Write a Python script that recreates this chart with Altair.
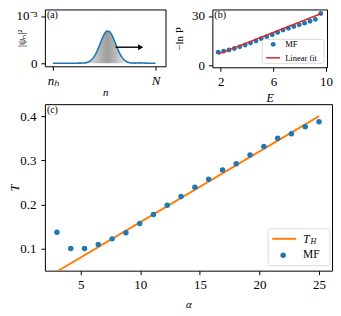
import altair as alt
import pandas as pd

FONT = "Liberation Serif"
BLUE = "#1f77b4"
ORANGE = "#ff7f0e"
RED = "#d62728"

# ---------------- panel (a): wave packet |psi_n|^2 (units of 1e-3)
n_pos = [0.0, 0.05, 0.10, 0.15, 0.20, 0.25,
         0.30, 0.325, 0.35, 0.375, 0.40, 0.425, 0.45, 0.475, 0.50, 0.525,
         0.55, 0.575, 0.60, 0.625, 0.65, 0.675, 0.70, 0.725, 0.75, 0.775,
         0.80, 0.825, 0.85, 0.875, 0.90, 0.95, 1.0]
psi_sq = [0.002, 0.002, 0.002, 0.002, 0.002, 0.003,
          0.005, 0.014, 0.033, 0.070, 0.136, 0.233, 0.360, 0.497, 0.614, 0.679,
          0.671, 0.594, 0.470, 0.333, 0.211, 0.120, 0.061, 0.028, 0.011, 0.005,
          0.004, 0.008, 0.010, 0.006, 0.004, 0.002, 0.002]
arrow_start = [0.61]
arrow_end = [0.84]
arrow_head = [0.855]
arrow_level = [0.34]

# ---------------- panel (b): -ln P vs E
E_vals = [1.80, 2.21, 2.62, 3.03, 3.44, 3.85, 4.26, 4.67, 5.08, 5.49,
          5.91, 6.32, 6.73, 7.14, 7.55, 7.96, 8.37, 8.78, 9.19, 9.60]
lnP_vals = [8.0, 8.6, 9.3, 10.2, 11.2, 12.3, 13.5, 14.8, 16.2, 17.4,
            18.6, 20.0, 21.4, 22.5, 23.6, 24.6, 25.6, 26.8, 27.9, 31.5]
E_fit = [1.8, 9.6]
lnP_fit = [6.8, 31.3]

# ---------------- panel (c): T vs alpha
alpha_vals = [3.0, 4.16, 5.32, 6.47, 7.63, 8.79, 9.95, 11.1, 12.26, 13.42,
              14.58, 15.74, 16.9, 18.05, 19.21, 20.37, 21.53, 22.68, 23.84, 25.0]
T_vals = [0.137, 0.100, 0.100, 0.109, 0.122, 0.136, 0.157, 0.177, 0.198, 0.218,
          0.239, 0.257, 0.278, 0.292, 0.312, 0.331, 0.350, 0.360, 0.376, 0.387]
alpha_TH = [3.0, 25.0]
T_TH = [0.048, 0.400]

df_a = pd.DataFrame({"n": n_pos, "p": psi_sq})
df_arrow = pd.DataFrame({"x": arrow_start, "x2": arrow_end, "xh": arrow_head, "y": arrow_level})
df_b = pd.DataFrame({"E": E_vals, "L": lnP_vals})
df_bfit = pd.DataFrame({"E": E_fit, "L": lnP_fit})
df_c = pd.DataFrame({"a": alpha_vals, "T": T_vals})
df_cth = pd.DataFrame({"a": alpha_TH, "T": T_TH})
one = pd.DataFrame({"k": [0]})

AX = dict(domain=False, grid=False, ticks=True, tickColor="black", tickSize=4,
          tickWidth=1, labelFont=FONT, labelFontSize=13, labelColor="black",
          titleFont=FONT, titleColor="black", titleFontWeight="normal")


def panel_label(txt):
    return alt.Chart(one).mark_text(font=FONT, fontSize=10, align="left",
                                    baseline="top", color="black").encode(
        x=alt.value(2), y=alt.value(1), text=alt.value(txt))


# ---- panel (a)
xa = alt.X("n:Q", scale=alt.Scale(domain=[-0.078, 1.097], nice=False, zero=False),
           axis=alt.Axis(values=[0, 1],
                         labelExpr="datum.value == 0 ? 'nₕ' : 'N'",
                         labelFontStyle="italic", title="n", titleFontStyle="italic",
                         titleFontSize=11, titleY=26, titleBaseline="middle",
                         labelPadding=4, **AX))
ya = alt.Y("p:Q", scale=alt.Scale(domain=[-0.063, 1.137], nice=False, zero=False),
           axis=alt.Axis(values=[0, 1],
                         labelExpr="datum.value == 0 ? '0' : '10⁻³'",
                         title="|ψₙ|²", titleFontSize=10, titleX=-23,
                         titleBaseline="middle", labelPadding=4, **AX))
grad = alt.Gradient(gradient="linear", x1=0, x2=1, y1=0, y2=0, stops=[
    alt.GradientStop(color="#ffffff", offset=0),
    alt.GradientStop(color="#f2f2f2", offset=0.3),
    alt.GradientStop(color="#b8b8b8", offset=0.45),
    alt.GradientStop(color="#9c9c9c", offset=0.53),
    alt.GradientStop(color="#b4b4b4", offset=0.6),
    alt.GradientStop(color="#f0f0f0", offset=0.72),
    alt.GradientStop(color="#ffffff", offset=1)])
a_area = alt.Chart(df_a).mark_area(color=grad, interpolate="monotone").encode(x=xa, y=ya)
a_line = alt.Chart(df_a).mark_line(color=BLUE, strokeWidth=1.6, interpolate="monotone").encode(x="n:Q", y="p:Q")
a_arrow = alt.Chart(df_arrow).mark_rule(color="black", strokeWidth=1.4).encode(
    x="x:Q", x2="x2", y="y:Q")
a_head = alt.Chart(df_arrow).mark_point(shape="triangle-right", filled=True, color="black",
                                        size=35, opacity=1).encode(x="xh:Q", y="y:Q")
panel_a = alt.layer(a_area, a_line, a_arrow, a_head, panel_label("(a)")).properties(width=121, height=57)

# ---- panel (b)
xb = alt.X("E:Q", scale=alt.Scale(domain=[1.356, 10.076], nice=False, zero=False),
           axis=alt.Axis(values=[2, 4, 6, 8, 10], title="E", titleFontStyle="italic",
                         titleFontSize=12, titleY=30, titleBaseline="middle",
                         labelPadding=4, **AX))
yb = alt.Y("L:Q", scale=alt.Scale(domain=[-1.21, 33.94], nice=False, zero=False),
           axis=alt.Axis(values=[0, 10, 20, 30], title="−ln P", titleFontSize=11,
                         titleX=-33, titleBaseline="middle", labelPadding=4, **AX))
b_pts = alt.Chart(df_b).mark_circle(color=BLUE, size=24, opacity=1).encode(x=xb, y=yb)
b_fit = alt.Chart(df_bfit).mark_line(color=RED, strokeWidth=1.5).encode(x="E:Q", y="L:Q")
b_box = alt.Chart(one).mark_rect(fill="white", stroke="#cccccc", strokeWidth=0.8,
                                 cornerRadius=2, opacity=0.9).encode(
    x=alt.value(50), x2=alt.value(112), y=alt.value(30), y2=alt.value(54))
b_dot = alt.Chart(one).mark_circle(color=BLUE, size=24, opacity=1).encode(
    x=alt.value(61), y=alt.value(35))
b_txt1 = alt.Chart(one).mark_text(font=FONT, fontSize=8.5, align="left", baseline="middle",
                                  color="black").encode(x=alt.value(73), y=alt.value(35), text=alt.value("MF"))
b_lin = alt.Chart(one).mark_rule(color=RED, strokeWidth=1.5).encode(
    x=alt.value(54), x2=alt.value(68), y=alt.value(48.5))
b_txt2 = alt.Chart(one).mark_text(font=FONT, fontSize=8.5, align="left", baseline="middle",
                                  color="black").encode(x=alt.value(73), y=alt.value(48.5), text=alt.value("Linear fit"))
panel_b = alt.layer(b_pts, b_fit, b_box, b_dot, b_txt1, b_lin, b_txt2,
                    panel_label("(b)")).properties(width=115, height=58)

# ---- panel (c)
xc = alt.X("a:Q", scale=alt.Scale(domain=[1.99, 26.09], nice=False, zero=False),
           axis=alt.Axis(values=[5, 10, 15, 20, 25], title="α", titleFontStyle="italic",
                         titleFontSize=11, titleY=34, titleBaseline="middle",
                         labelPadding=4, **AX))
yc = alt.Y("T:Q", scale=alt.Scale(domain=[0.05, 0.427], nice=False, zero=False),
           axis=alt.Axis(values=[0.1, 0.2, 0.3, 0.4], format=".1f", title="T",
                         titleFontStyle="italic", titleFontSize=12, titleX=-30,
                         titleBaseline="middle", labelPadding=5, **AX))
c_line = alt.Chart(df_cth).mark_line(color=ORANGE, strokeWidth=2, clip=True).encode(x=xc, y=yc)
c_pts = alt.Chart(df_c).mark_circle(color=BLUE, size=30, opacity=1).encode(x="a:Q", y="T:Q")
c_box = alt.Chart(one).mark_rect(fill="white", stroke="#cccccc", strokeWidth=0.8,
                                 cornerRadius=2, opacity=0.9).encode(
    x=alt.value(224), x2=alt.value(286), y=alt.value(125), y2=alt.value(162))
c_lin = alt.Chart(one).mark_rule(color=ORANGE, strokeWidth=2).encode(
    x=alt.value(228), x2=alt.value(252), y=alt.value(135))
c_T = alt.Chart(one).mark_text(font=FONT, fontSize=12, fontStyle="italic", align="left",
                               baseline="middle", color="black").encode(
    x=alt.value(259), y=alt.value(135), text=alt.value("T"))
c_H = alt.Chart(one).mark_text(font=FONT, fontSize=8, fontStyle="italic", align="left",
                               baseline="middle", color="black").encode(
    x=alt.value(266.5), y=alt.value(138.5), text=alt.value("H"))
c_dot = alt.Chart(one).mark_circle(color=BLUE, size=30, opacity=1).encode(
    x=alt.value(239), y=alt.value(151.5))
c_MF = alt.Chart(one).mark_text(font=FONT, fontSize=11.5, align="left", baseline="middle",
                                color="black").encode(x=alt.value(259), y=alt.value(151.5), text=alt.value("MF"))
panel_c = alt.layer(c_line, c_pts, c_box, c_lin, c_T, c_H, c_dot, c_MF,
                    panel_label("(c)")).properties(width=288, height=167)

top = alt.hconcat(panel_a, panel_b, spacing=47, bounds="flush")
chart = alt.vconcat(top, panel_c, spacing=-2).properties(
    padding={"left": 0, "top": 0, "right": 0, "bottom": 0}
).configure_view(stroke="black", strokeWidth=1)

chart.save("out.html", embed_options={"renderer": "svg", "actions": False})
